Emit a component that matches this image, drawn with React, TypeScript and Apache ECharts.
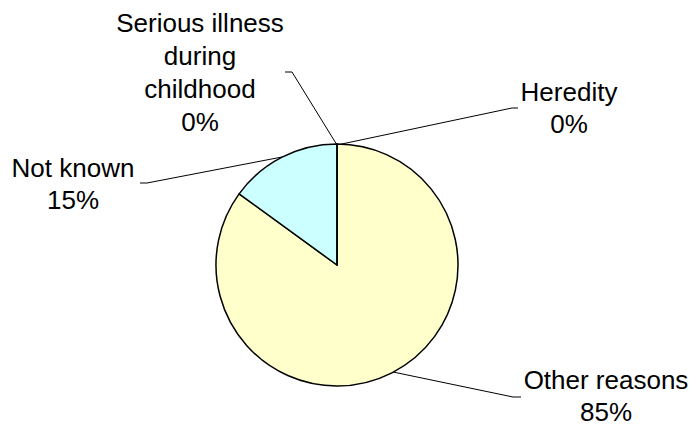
import React, { useEffect, useRef } from "react";
import * as echarts from "echarts";

const categories = ["Heredity", "Other reasons", "Not known", "Serious illness\nduring\nchildhood"];
const values = [0, 85, 15, 0];
const percents = ["0%", "85%", "15%", "0%"];
const colors = ["#FFFFCC", "#FFFFCC", "#CCFFFF", "#CCFFFF"];

// label placement (layout only)
const labelPos: [number, number][] = [
  [569, 108],
  [606, 396],
  [73, 184],
  [200, 72],
];
const linePts: [number, number][][] = [
  [[337, 145], [512, 108], [518, 108]],
  [[393, 372], [513, 397], [521, 397]],
  [[282, 157], [147, 183], [140, 183]],
  [[337, 145], [292, 72], [285, 72]],
];

export default function App() {
  const ref = useRef<HTMLDivElement>(null);
  useEffect(() => {
    if (!ref.current) return;
    const chart = echarts.init(ref.current, null, { renderer: "svg" });
    chart.setOption({
      animation: false,
      backgroundColor: "#ffffff",
      series: [
        {
          type: "pie",
          center: [337, 265],
          radius: 121,
          startAngle: 90,
          clockwise: true,
          avoidLabelOverlap: false,
          itemStyle: { borderColor: "#000000", borderWidth: 1.5 },
          label: {
            show: true,
            formatter: (p: any) => p.name + "\n" + percents[p.dataIndex],
            fontFamily: "Liberation Sans, Arial, sans-serif",
            fontSize: 26,
            lineHeight: 32,
            color: "#000000",
            align: "center",
          },
          labelLine: { show: true, lineStyle: { color: "#000000", width: 1 } },
          labelLayout: (p: any) => ({
            x: labelPos[p.dataIndex][0],
            y: labelPos[p.dataIndex][1],
            align: "center",
            verticalAlign: "middle",
            labelLinePoints: linePts[p.dataIndex],
          }),
          data: categories.map((c, i) => ({
            name: c,
            value: values[i],
            itemStyle: { color: colors[i] },
            label: i === 3 ? { lineHeight: 33 } : undefined,
          })),
        },
      ],
    });
    return () => chart.dispose();
  }, []);
  return (
    <div
      ref={ref}
      style={{ position: "absolute", left: 0, top: 0, width: 696, height: 426 }}
    />
  );
}
